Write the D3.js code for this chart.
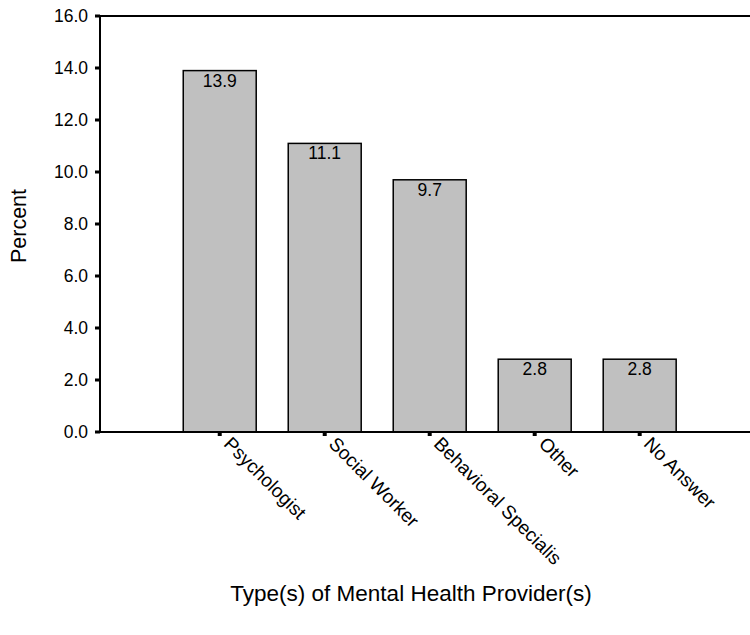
<!DOCTYPE html>
<html>
<head>
<meta charset="utf-8">
<style>
  body { margin: 0; background: #fff; }
  svg text { font-family: "Liberation Sans", Arial, sans-serif; fill: #000; }
  .tick-label { font-size: 17.5px; }
  .cat-label { font-size: 19px; }
  .value-label { font-size: 17.5px; }
  .axis-title { font-size: 21.5px; }
  .x-title { font-size: 22.5px; }
</style>
</head>
<body>
<div id="chart"></div>
<script src="https://d3js.org/d3.v7.min.js"></script>
<script>
  // Data
  const categories = ['Psychologist', 'Social Worker', 'Behavioral Specialis', 'Other', 'No Answer'];
  const percents = [13.9, 11.1, 9.7, 2.8, 2.8];
  const yTicks = [0, 2, 4, 6, 8, 10, 12, 14, 16];

  const width = 750;
  const height = 635;
  const margin = { top: 16, right: 0, bottom: 203, left: 100 };

  const svg = d3.select('#chart')
    .append('svg')
    .attr('width', width)
    .attr('height', height);

  const x = d3.scaleBand()
    .domain(categories)
    .range([margin.left, width - margin.right])
    .paddingInner(0.305)
    .paddingOuter(0.748)
    .align(0.53);

  const y = d3.scaleLinear()
    .domain([0, 16])
    .range([height - margin.bottom, margin.top]);

  const y0 = y(0);

  // bars
  svg.selectAll('rect.bar')
    .data(percents)
    .enter()
    .append('rect')
    .attr('class', 'bar')
    .attr('x', (d, i) => x(categories[i]))
    .attr('y', d => y(d))
    .attr('width', x.bandwidth())
    .attr('height', d => y0 - y(d))
    .attr('fill', '#c0c0c0')
    .attr('stroke', '#000')
    .attr('stroke-width', 1.5);

  // value labels inside the top of each bar
  svg.selectAll('text.value-label')
    .data(percents)
    .enter()
    .append('text')
    .attr('class', 'value-label')
    .attr('x', (d, i) => x(categories[i]) + x.bandwidth() / 2)
    .attr('y', d => y(d) + 16)
    .attr('text-anchor', 'middle')
    .text(d => d.toFixed(1));

  // top frame line
  svg.append('line')
    .attr('x1', margin.left).attr('x2', width - margin.right)
    .attr('y1', y(16)).attr('y2', y(16))
    .attr('stroke', '#000').attr('stroke-width', 2);

  // y axis: line, square ticks, labels
  const yAxis = svg.append('g');
  yAxis.append('line')
    .attr('x1', margin.left).attr('x2', margin.left)
    .attr('y1', y(16) - 1).attr('y2', y0 + 1)
    .attr('stroke', '#000').attr('stroke-width', 2);
  yAxis.selectAll('rect')
    .data(yTicks)
    .enter()
    .append('rect')
    .attr('x', margin.left - 5)
    .attr('y', d => y(d) - 1.5)
    .attr('width', 5)
    .attr('height', 3)
    .attr('fill', '#000');
  yAxis.selectAll('text')
    .data(yTicks)
    .enter()
    .append('text')
    .attr('class', 'tick-label')
    .attr('x', margin.left - 12)
    .attr('y', d => y(d))
    .attr('dy', '0.36em')
    .attr('text-anchor', 'end')
    .text(d => d3.format('.1f')(d));

  // x axis: line, square ticks, rotated labels
  const xAxis = svg.append('g');
  xAxis.append('line')
    .attr('x1', margin.left - 1).attr('x2', width - margin.right)
    .attr('y1', y0).attr('y2', y0)
    .attr('stroke', '#000').attr('stroke-width', 2);
  xAxis.selectAll('rect')
    .data(categories)
    .enter()
    .append('rect')
    .attr('x', d => x(d) + x.bandwidth() / 2 - 2)
    .attr('y', y0)
    .attr('width', 4)
    .attr('height', 4)
    .attr('fill', '#000');
  xAxis.selectAll('text')
    .data(categories)
    .enter()
    .append('text')
    .attr('class', 'cat-label')
    .attr('transform', d => `translate(${x(d) + x.bandwidth() / 2 + 3}, ${y0 + 13}) rotate(45)`)
    .attr('text-anchor', 'start')
    .text(d => d);

  // axis titles
  svg.append('text')
    .attr('class', 'axis-title')
    .attr('transform', 'rotate(-90)')
    .attr('x', -226)
    .attr('y', 26)
    .attr('text-anchor', 'middle')
    .text('Percent');

  svg.append('text')
    .attr('class', 'x-title')
    .attr('x', 411)
    .attr('y', 601)
    .attr('text-anchor', 'middle')
    .text('Type(s) of Mental Health Provider(s)');
</script>
</body>
</html>
